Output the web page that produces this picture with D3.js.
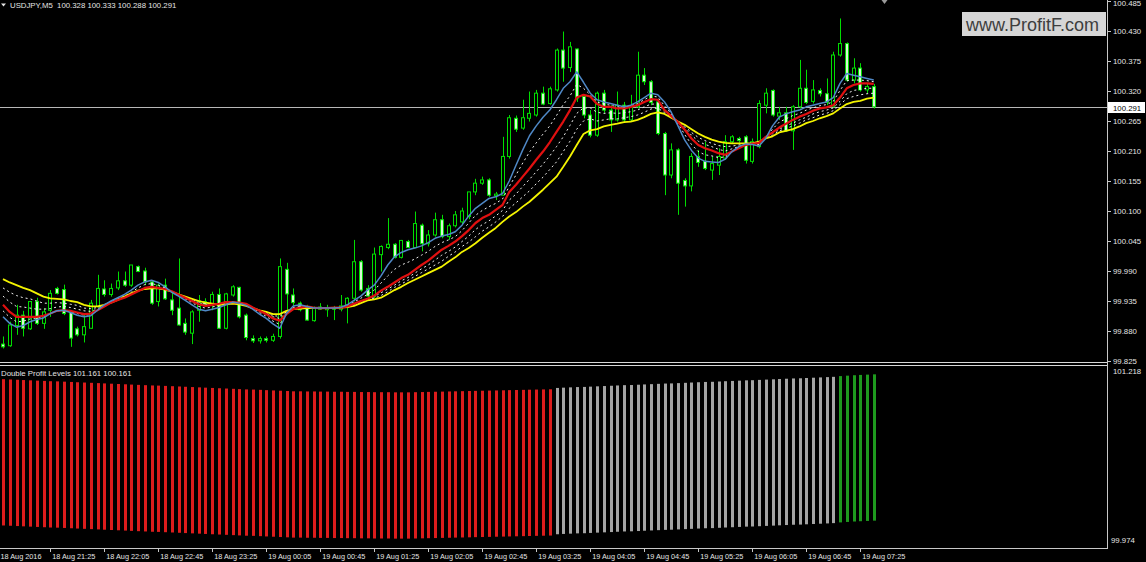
<!DOCTYPE html>
<html><head><meta charset="utf-8">
<script src="https://cdn.jsdelivr.net/npm/d3@7"></script>
<style>html,body{margin:0;padding:0;background:#000;overflow:hidden}</style>
</head><body>
<svg id="c" width="1146" height="562"></svg>
<script>
// ---------------- data ----------------
const symbol = "USDJPY,M5";
const firstBarTime = "2016-08-18 20:50";
const barMinutes = 5;

const opens = [
99.856,99.853,99.890,99.909,99.884,99.934,99.894,99.918,99.958,99.956,
99.914,99.884,99.873,99.885,99.925,99.957,99.947,99.959,99.972,99.964,
99.998,99.990,99.970,99.934,99.964,99.937,99.922,99.894,99.876,99.918,
99.934,99.928,99.947,99.885,99.946,99.960,99.909,99.866,99.862,99.866,
99.863,99.870,99.993,99.946,99.931,99.925,99.899,99.924,99.919,99.923,
99.920,99.923,99.940,100.007,99.958,99.943,100.020,100.033,100.039,100.015,
100.044,100.033,100.074,100.040,100.056,100.084,100.053,100.073,100.080,100.090,
100.135,100.151,100.157,100.128,100.129,100.200,100.270,100.252,100.270,100.276,
100.316,100.297,100.322,100.395,100.363,100.397,100.310,100.276,100.239,100.316,
100.285,100.267,100.294,100.267,100.291,100.349,100.337,100.300,100.242,100.166,
100.212,100.156,100.146,100.200,100.191,100.175,100.184,100.197,100.227,100.233,
100.236,100.191,100.218,100.294,100.321,100.274,100.280,100.247,100.291,100.325,
100.301,100.321,100.315,100.291,100.386,100.407,100.340,100.362,100.322,100.328];
const highs = [
99.870,99.897,99.928,99.917,99.934,99.941,99.922,99.955,99.961,99.965,
99.918,99.888,99.912,99.937,99.983,99.973,99.967,99.989,99.989,100.001,
100.000,99.996,99.973,99.967,99.976,99.952,100.013,99.903,99.918,99.946,
99.940,99.952,99.958,99.950,99.964,99.961,99.912,99.872,99.870,99.870,
99.875,100.013,100.005,99.958,99.934,99.928,99.925,99.931,99.928,99.926,
99.946,99.942,100.047,100.010,99.964,100.033,100.037,100.087,100.041,100.047,
100.047,100.099,100.077,100.065,100.097,100.093,100.077,100.100,100.106,100.135,
100.159,100.163,100.160,100.135,100.236,100.276,100.275,100.304,100.319,100.322,
100.328,100.328,100.398,100.429,100.410,100.398,100.313,100.285,100.319,100.322,
100.294,100.319,100.300,100.313,100.392,100.362,100.340,100.303,100.245,100.224,
100.215,100.160,100.206,100.212,100.227,100.200,100.215,100.239,100.239,100.236,
100.239,100.233,100.303,100.325,100.323,100.291,100.291,100.294,100.377,100.359,
100.340,100.325,100.343,100.392,100.453,100.409,100.380,100.371,100.334,100.333];
const lows = [
99.848,99.851,99.873,99.870,99.882,99.891,99.884,99.906,99.947,99.909,
99.851,99.870,99.859,99.884,99.922,99.943,99.943,99.955,99.961,99.961,
99.988,99.964,99.928,99.925,99.937,99.909,99.890,99.873,99.856,99.897,
99.925,99.918,99.884,99.883,99.943,99.903,99.863,99.858,99.857,99.859,
99.860,99.866,99.919,99.925,99.916,99.899,99.897,99.919,99.906,99.900,
99.916,99.894,99.934,99.952,99.940,99.940,99.989,100.030,100.013,100.013,
100.032,100.032,100.026,100.035,100.053,100.050,100.047,100.070,100.074,100.085,
100.129,100.148,100.126,100.120,100.128,100.196,100.245,100.249,100.264,100.273,
100.294,100.295,100.319,100.337,100.355,100.300,100.270,100.235,100.236,100.280,
100.245,100.264,100.262,100.264,100.288,100.331,100.294,100.239,100.129,100.160,
100.093,100.108,100.136,100.181,100.175,100.157,100.166,100.194,100.224,100.225,
100.187,100.187,100.215,100.279,100.273,100.267,100.245,100.212,100.288,100.296,
100.297,100.310,100.294,100.290,100.383,100.337,100.334,100.319,100.316,100.288];
const closes = [
99.851,99.891,99.909,99.885,99.934,99.894,99.915,99.949,99.949,99.912,
99.867,99.873,99.888,99.931,99.958,99.947,99.958,99.972,99.964,100.001,
99.989,99.970,99.931,99.964,99.939,99.918,99.891,99.878,99.915,99.935,
99.928,99.947,99.885,99.948,99.961,99.906,99.868,99.862,99.866,99.863,
99.870,99.998,99.948,99.932,99.919,99.900,99.923,99.920,99.923,99.920,
99.926,99.940,100.007,99.955,99.944,100.021,100.035,100.039,100.015,100.046,
100.033,100.077,100.040,100.056,100.084,100.053,100.073,100.093,100.100,100.135,
100.151,100.157,100.129,100.131,100.200,100.271,100.250,100.271,100.279,100.316,
100.296,100.324,100.395,100.362,100.401,100.307,100.276,100.239,100.316,100.285,
100.267,100.294,100.267,100.291,100.349,100.337,100.299,100.242,100.166,100.212,
100.151,100.146,100.200,100.189,100.178,100.187,100.200,100.227,100.236,100.229,
100.193,100.227,100.297,100.316,100.276,100.280,100.247,100.291,100.325,100.299,
100.322,100.315,100.299,100.386,100.407,100.340,100.362,100.322,100.328,100.291];

// moving averages (fast blue, dashed ribbon lines, red, slow yellow)
const maBlue = [
99.906,99.894,99.887,99.890,99.897,99.901,99.904,99.912,99.917,99.918,
99.914,99.909,99.906,99.908,99.918,99.928,99.935,99.941,99.947,99.955,
99.964,99.970,99.973,99.969,99.961,99.951,99.944,99.936,99.928,99.920,
99.917,99.920,99.923,99.928,99.933,99.931,99.927,99.920,99.911,99.903,
99.893,99.885,99.912,99.926,99.928,99.925,99.922,99.922,99.922,99.922,
99.923,99.928,99.936,99.944,99.955,99.964,99.981,100.001,100.016,100.024,
100.029,100.032,100.036,100.042,100.050,100.054,100.057,100.062,100.074,100.091,
100.105,100.114,100.123,100.126,100.132,100.155,100.184,100.212,100.238,100.256,
100.272,100.285,100.304,100.325,100.337,100.355,100.336,100.316,100.304,100.300,
100.297,100.294,100.291,100.294,100.300,100.308,100.316,100.313,100.300,100.281,
100.256,100.230,100.211,100.197,100.191,100.190,100.189,100.195,100.209,100.218,
100.223,100.222,100.219,100.233,100.256,100.272,100.278,100.282,100.285,100.291,
100.294,100.297,100.300,100.308,100.334,100.352,100.349,100.346,100.343,100.340];
const maRibbon0 = [
99.917,99.905,99.897,99.898,99.902,99.904,99.906,99.912,99.917,99.918,
99.916,99.912,99.909,99.910,99.918,99.927,99.934,99.939,99.944,99.951,
99.959,99.965,99.967,99.964,99.959,99.952,99.946,99.939,99.932,99.925,
99.922,99.924,99.927,99.931,99.933,99.932,99.929,99.922,99.914,99.907,
99.898,99.892,99.912,99.923,99.926,99.925,99.923,99.922,99.922,99.923,
99.923,99.927,99.933,99.940,99.947,99.955,99.968,99.981,99.993,100.001,
100.006,100.012,100.019,100.026,100.035,100.042,100.047,100.053,100.064,100.078,
100.092,100.101,100.108,100.114,100.122,100.145,100.166,100.188,100.208,100.225,
100.241,100.256,100.275,100.295,100.311,100.332,100.325,100.313,100.300,100.296,
100.294,100.291,100.290,100.293,100.297,100.304,100.311,100.309,100.293,100.278,
100.260,100.240,100.222,100.209,100.203,100.201,100.198,100.199,100.209,100.217,
100.222,100.223,100.222,100.235,100.250,100.263,100.269,100.275,100.279,100.285,
100.289,100.293,100.295,100.301,100.321,100.339,100.340,100.340,100.339,100.337];
const maRed = [
99.928,99.915,99.906,99.906,99.906,99.906,99.908,99.912,99.917,99.918,
99.917,99.914,99.911,99.912,99.918,99.925,99.932,99.937,99.941,99.947,
99.953,99.959,99.961,99.959,99.957,99.953,99.947,99.941,99.935,99.929,
99.926,99.928,99.930,99.933,99.933,99.932,99.930,99.923,99.917,99.911,
99.903,99.899,99.911,99.920,99.923,99.925,99.923,99.922,99.922,99.923,
99.923,99.925,99.930,99.935,99.939,99.945,99.954,99.961,99.969,99.977,
99.983,99.992,100.001,100.009,100.019,100.029,100.036,100.044,100.054,100.065,
100.078,100.087,100.093,100.102,100.111,100.135,100.148,100.163,100.178,100.194,
100.209,100.226,100.245,100.264,100.285,100.308,100.313,100.310,100.296,100.291,
100.291,100.288,100.288,100.291,100.294,100.300,100.305,100.304,100.285,100.274,
100.263,100.249,100.233,100.221,100.215,100.211,100.206,100.203,100.209,100.215,
100.221,100.223,100.225,100.236,100.244,100.253,100.260,100.267,100.273,100.278,
100.284,100.288,100.290,100.294,100.308,100.325,100.331,100.334,100.334,100.333];
const maRibbon1 = [
99.944,99.933,99.925,99.924,99.922,99.920,99.920,99.921,99.924,99.925,
99.923,99.920,99.917,99.916,99.920,99.926,99.932,99.937,99.942,99.948,
99.953,99.958,99.960,99.959,99.957,99.953,99.947,99.942,99.936,99.931,
99.928,99.929,99.929,99.932,99.932,99.931,99.929,99.923,99.917,99.912,
99.906,99.903,99.913,99.920,99.922,99.924,99.923,99.922,99.922,99.923,
99.923,99.925,99.929,99.934,99.938,99.943,99.950,99.957,99.964,99.972,
99.978,99.986,99.994,100.001,100.010,100.019,100.026,100.034,100.044,100.054,
100.066,100.075,100.082,100.091,100.101,100.120,100.131,100.145,100.158,100.172,
100.186,100.201,100.218,100.236,100.257,100.279,100.289,100.289,100.281,100.279,
100.280,100.279,100.280,100.282,100.285,100.291,100.296,100.296,100.283,100.273,
100.263,100.252,100.239,100.228,100.222,100.218,100.213,100.210,100.214,100.218,
100.222,100.223,100.226,100.235,100.242,100.250,100.256,100.261,100.267,100.272,
100.278,100.282,100.285,100.289,100.301,100.315,100.321,100.323,100.325,100.325];
const maRibbon2 = [
99.959,99.951,99.945,99.941,99.939,99.935,99.931,99.931,99.932,99.931,
99.929,99.927,99.922,99.921,99.923,99.927,99.932,99.937,99.942,99.948,
99.954,99.958,99.959,99.958,99.956,99.952,99.947,99.942,99.938,99.933,
99.930,99.929,99.929,99.930,99.931,99.930,99.927,99.922,99.918,99.914,
99.908,99.907,99.915,99.920,99.922,99.923,99.922,99.922,99.922,99.922,
99.923,99.924,99.927,99.932,99.937,99.940,99.945,99.952,99.960,99.966,
99.973,99.980,99.987,99.994,100.001,100.008,100.017,100.025,100.035,100.043,
100.053,100.063,100.071,100.080,100.090,100.105,100.115,100.126,100.137,100.150,
100.162,100.176,100.190,100.209,100.228,100.250,100.265,100.269,100.265,100.267,
100.269,100.269,100.271,100.273,100.276,100.281,100.287,100.289,100.280,100.272,
100.264,100.255,100.244,100.235,100.229,100.224,100.220,100.218,100.219,100.221,
100.223,100.224,100.226,100.234,100.239,100.247,100.251,100.256,100.261,100.267,
100.271,100.276,100.279,100.284,100.295,100.306,100.310,100.313,100.315,100.316];
const maYellow = [
99.975,99.969,99.964,99.959,99.955,99.949,99.943,99.940,99.939,99.938,
99.935,99.933,99.928,99.925,99.925,99.928,99.932,99.937,99.943,99.949,
99.954,99.957,99.958,99.958,99.956,99.952,99.947,99.943,99.939,99.935,
99.932,99.930,99.928,99.929,99.930,99.929,99.926,99.922,99.918,99.915,
99.911,99.911,99.917,99.920,99.921,99.922,99.922,99.922,99.922,99.922,
99.923,99.924,99.926,99.931,99.936,99.938,99.941,99.948,99.955,99.961,
99.968,99.974,99.980,99.986,99.992,99.998,100.007,100.015,100.025,100.032,
100.041,100.051,100.060,100.069,100.080,100.090,100.098,100.108,100.117,100.128,
100.139,100.151,100.163,100.181,100.200,100.221,100.241,100.248,100.250,100.255,
100.258,100.260,100.263,100.264,100.267,100.272,100.278,100.281,100.278,100.271,
100.264,100.258,100.250,100.242,100.236,100.231,100.227,100.225,100.224,100.224,
100.224,100.224,100.227,100.233,100.237,100.244,100.247,100.250,100.255,100.261,
100.265,100.270,100.274,100.279,100.288,100.296,100.300,100.302,100.306,100.308];

// "Double Profit Levels" indicator: upper and lower level per bar
const levelTop = [
101.128,101.126,101.124,101.122,101.120,101.118,101.116,101.114,101.113,101.111,
101.109,101.107,101.105,101.103,101.101,101.099,101.097,101.095,101.093,101.091,
101.089,101.087,101.085,101.084,101.082,101.080,101.078,101.076,101.074,101.072,
101.070,101.068,101.066,101.064,101.062,101.060,101.058,101.057,101.055,101.053,
101.051,101.049,101.047,101.045,101.045,101.044,101.044,101.043,101.043,101.042,
101.042,101.041,101.041,101.040,101.040,101.039,101.039,101.039,101.038,101.038,
101.038,101.039,101.040,101.041,101.042,101.043,101.044,101.045,101.046,101.047,
101.048,101.049,101.050,101.051,101.052,101.053,101.054,101.055,101.056,101.057,
101.058,101.059,101.068,101.070,101.072,101.074,101.075,101.077,101.079,101.081,
101.083,101.085,101.087,101.088,101.090,101.092,101.094,101.096,101.098,101.099,
101.101,101.103,101.105,101.107,101.109,101.110,101.112,101.114,101.116,101.118,
101.120,101.121,101.123,101.125,101.127,101.129,101.131,101.133,101.134,101.136,
101.138,101.140,101.142,101.144,101.149,101.152,101.155,101.157,101.159,101.161];
const levelBottom = [
100.128,100.126,100.124,100.122,100.120,100.118,100.116,100.114,100.113,100.111,
100.109,100.107,100.105,100.103,100.101,100.099,100.097,100.095,100.093,100.091,
100.089,100.087,100.085,100.084,100.082,100.080,100.078,100.076,100.074,100.072,
100.070,100.068,100.066,100.064,100.062,100.060,100.058,100.057,100.055,100.053,
100.051,100.049,100.047,100.045,100.045,100.044,100.044,100.043,100.043,100.042,
100.042,100.041,100.041,100.040,100.040,100.039,100.039,100.039,100.038,100.038,
100.038,100.039,100.040,100.041,100.042,100.043,100.044,100.045,100.046,100.047,
100.048,100.049,100.050,100.051,100.052,100.053,100.054,100.055,100.056,100.057,
100.058,100.059,100.068,100.070,100.072,100.074,100.075,100.077,100.079,100.081,
100.083,100.085,100.087,100.088,100.090,100.092,100.094,100.096,100.098,100.099,
100.101,100.103,100.105,100.107,100.109,100.110,100.112,100.114,100.116,100.118,
100.120,100.121,100.123,100.125,100.127,100.129,100.131,100.133,100.134,100.136,
100.138,100.140,100.142,100.144,100.149,100.152,100.155,100.157,100.159,100.161];
const levelStates = [
  {state: "down", from: 0, to: 81},
  {state: "flat", from: 82, to: 123},
  {state: "up", from: 124, to: 129}
];
const indicatorName = "Double Profit Levels";
const levelRange = [99.974, 101.218];

const priceRange = [99.825, 100.485];
const priceTicks = [100.485,100.430,100.375,100.320,100.265,100.210,100.155,100.100,100.045,99.990,99.935,99.880,99.825];
const bidPrice = 100.291;
const firstDateLabel = "18 Aug 2016";
const timeTickLabels = ["18 Aug 21:25","18 Aug 22:05","18 Aug 22:45","18 Aug 23:25","19 Aug 00:05","19 Aug 00:45",
  "19 Aug 01:25","19 Aug 02:05","19 Aug 02:45","19 Aug 03:25","19 Aug 04:05","19 Aug 04:45","19 Aug 05:25",
  "19 Aug 06:05","19 Aug 06:45","19 Aug 07:25"];
const watermark = "www.ProfitF.com";

// ---------------- layout ----------------
const W = 1146, H = 562;
const axisX = 1107;
const barStep = 6.75, firstBarX = 3;
const FONT = "'Liberation Sans', Arial, sans-serif";
const TXT = "#e4e4e4";

const parseFull = d3.timeParse("%Y-%m-%d %H:%M");
const parseTick = d3.timeParse("%d %b %Y %H:%M");
const t0 = parseFull(firstBarTime);
const times = closes.map((_, i) => d3.timeMinute.offset(t0, i * barMinutes));
const n = closes.length;

const x = d3.scaleTime().domain([times[0], times[n - 1]])
  .range([firstBarX, firstBarX + (n - 1) * barStep]);
const y = d3.scaleLinear().domain(priceRange).range([361, 1]);
const yL = d3.scaleLinear().domain(levelRange).range([548, 366]);

const svg = d3.select("#c");
svg.append("rect").attr("width", W).attr("height", H).attr("fill", "#000");

const defs = svg.append("defs");
defs.append("clipPath").attr("id", "clipMain").append("rect")
  .attr("x", 0).attr("y", 0).attr("width", axisX).attr("height", 362);
defs.append("clipPath").attr("id", "clipLow").append("rect")
  .attr("x", 0).attr("y", 366).attr("width", axisX).attr("height", 182);

const px = i => Math.round(x(times[i])) + 0.5;

// ---------------- main panel ----------------
const main = svg.append("g").attr("clip-path", "url(#clipMain)");

// bid line
main.append("line").attr("x1", 0).attr("x2", axisX)
  .attr("y1", Math.round(y(bidPrice)) + 0.5).attr("y2", Math.round(y(bidPrice)) + 0.5)
  .attr("stroke", "#b8b8b8").attr("stroke-width", 1);

const candles = d3.range(n).map(i => ({i, o: opens[i], h: highs[i], l: lows[i], c: closes[i]}));
const cg = main.append("g");
cg.selectAll("line.wick").data(candles).join("line").attr("class", "wick")
  .attr("x1", d => px(d.i)).attr("x2", d => px(d.i))
  .attr("y1", d => y(d.h)).attr("y2", d => y(d.l))
  .attr("stroke", "#00dd00").attr("stroke-width", 1);
cg.selectAll("rect.body").data(candles).join("rect").attr("class", "body")
  .attr("x", d => px(d.i) - 2).attr("width", 3)
  .attr("y", d => y(Math.max(d.o, d.c)))
  .attr("height", d => Math.max(0.8, Math.abs(y(d.o) - y(d.c))))
  .attr("fill", d => d.c >= d.o ? "#000" : "#d6f8d2")
  .attr("stroke", "#00dd00").attr("stroke-width", 1);

const lineGen = arr => d3.line().x((v, i) => x(times[i])).y(v => y(v))(arr);
const mas = [
  {data: maRibbon2, color: "#f0f0f0", w: 1, dash: "2,3"},
  {data: maRibbon1, color: "#f0f0f0", w: 1, dash: "2,3"},
  {data: maRibbon0, color: "#f0f0f0", w: 1, dash: "2,3"},
  {data: maYellow, color: "#f4f400", w: 1.8, dash: null},
  {data: maRed, color: "#e01010", w: 2.2, dash: null},
  {data: maBlue, color: "#4f88c6", w: 1.5, dash: null}
];
main.selectAll("path.ma").data(mas).join("path").attr("class", "ma")
  .attr("d", d => lineGen(d.data)).attr("fill", "none")
  .attr("stroke", d => d.color).attr("stroke-width", d => d.w)
  .attr("stroke-dasharray", d => d.dash)
  .attr("stroke-linejoin", "round");

// header
svg.append("path").attr("d", "M1,3.5 L6,3.5 L3.5,6.5 Z").attr("fill", TXT);
svg.append("text").attr("x", 10).attr("y", 8).attr("fill", TXT)
  .attr("font-family", FONT).attr("font-size", 7.8)
  .attr("xml:space", "preserve")
  .text(`${symbol}  ${opens[n-1].toFixed(3)} ${highs[n-1].toFixed(3)} ${lows[n-1].toFixed(3)} ${closes[n-1].toFixed(3)}`);

// chart shift marker
svg.append("path").attr("d", `M${px(n-1)+7},0 L${px(n-1)+13},0 L${px(n-1)+10},4 Z`).attr("fill", "#9a9a9a");

// ---------------- lower panel ----------------
const low = svg.append("g").attr("clip-path", "url(#clipLow)");
const stateColor = {down: "#dc1c1c", flat: "#a4a4a4", up: "#1e9a1e"};
const stateOf = i => levelStates.find(s => i >= s.from && i <= s.to).state;
low.selectAll("rect.lvl").data(d3.range(n)).join("rect").attr("class", "lvl")
  .attr("x", i => px(i) - 1.5).attr("width", 3)
  .attr("y", i => yL(levelTop[i])).attr("height", i => yL(levelBottom[i]) - yL(levelTop[i]))
  .attr("fill", i => stateColor[stateOf(i)]);

svg.append("text").attr("x", 1).attr("y", 376).attr("fill", TXT)
  .attr("font-family", FONT).attr("font-size", 7.8)
  .text(`${indicatorName} ${levelTop[n-1].toFixed(3)} ${levelBottom[n-1].toFixed(3)}`);

// separators and axes
svg.append("line").attr("x1", 0).attr("x2", axisX).attr("y1", 362.5).attr("y2", 362.5).attr("stroke", "#d8d8d8");
svg.append("line").attr("x1", 0).attr("x2", axisX).attr("y1", 365.5).attr("y2", 365.5).attr("stroke", "#d8d8d8");
svg.append("line").attr("x1", axisX + 0.5).attr("x2", axisX + 0.5).attr("y1", 0).attr("y2", 548).attr("stroke", "#c8c8c8");
svg.append("line").attr("x1", 0).attr("x2", axisX + 1).attr("y1", 548.5).attr("y2", 548.5).attr("stroke", "#c8c8c8");

// price axis
const pa = svg.append("g");
pa.selectAll("line").data(priceTicks).join("line")
  .attr("x1", axisX).attr("x2", axisX + 4)
  .attr("y1", d => Math.round(y(d)) + 0.5).attr("y2", d => Math.round(y(d)) + 0.5)
  .attr("stroke", "#c8c8c8");
pa.selectAll("text").data(priceTicks).join("text")
  .attr("x", axisX + 6).attr("y", d => Math.max(y(d), 3) + 3)
  .attr("fill", TXT).attr("font-family", FONT).attr("font-size", 7.8)
  .text(d => d.toFixed(3));

// bid label
const by = Math.round(y(bidPrice));
svg.append("rect").attr("x", axisX + 1).attr("y", by - 5).attr("width", 37).attr("height", 11).attr("fill", "#ffffff");
svg.append("text").attr("x", axisX + 6).attr("y", by + 3.5).attr("fill", "#000")
  .attr("font-family", FONT).attr("font-size", 7.8).text(bidPrice.toFixed(3));

// level panel axis labels
svg.append("text").attr("x", axisX + 6).attr("y", yL(levelRange[1]) + 8).attr("fill", TXT)
  .attr("font-family", FONT).attr("font-size", 7.8).text(levelRange[1].toFixed(3));
svg.append("text").attr("x", axisX + 4).attr("y", yL(levelRange[0]) - 5).attr("fill", TXT)
  .attr("font-family", FONT).attr("font-size", 7.8).text(levelRange[0].toFixed(3));

// time axis
const tickTimes = timeTickLabels.map(s => {
  const [d, m, hm] = s.split(" ");
  return {label: s, t: parseTick(`${d} ${m} 2016 ${hm}`)};
});
const ta = svg.append("g");
ta.selectAll("line").data(tickTimes).join("line")
  .attr("x1", d => Math.round(x(d.t)) + 0.5).attr("x2", d => Math.round(x(d.t)) + 0.5)
  .attr("y1", 548).attr("y2", 552).attr("stroke", "#c8c8c8");
ta.selectAll("text").data(tickTimes).join("text")
  .attr("x", d => x(d.t) + 2).attr("y", 558.5)
  .attr("fill", TXT).attr("font-family", FONT).attr("font-size", 7.3)
  .text(d => d.label);
svg.append("text").attr("x", 0.5).attr("y", 558.5)
  .attr("fill", TXT).attr("font-family", FONT).attr("font-size", 7.3).text(firstDateLabel);

// watermark (kept inside the plot area so it does not cover the price labels)
svg.append("rect").attr("x", 962).attr("y", 12).attr("width", 144).attr("height", 24).attr("fill", "#d6d6d6");
svg.append("text").attr("x", 966).attr("y", 30.5).attr("fill", "#3e3e3e")
  .attr("font-family", FONT).attr("font-size", 18).text(watermark);
</script>
</body></html>
